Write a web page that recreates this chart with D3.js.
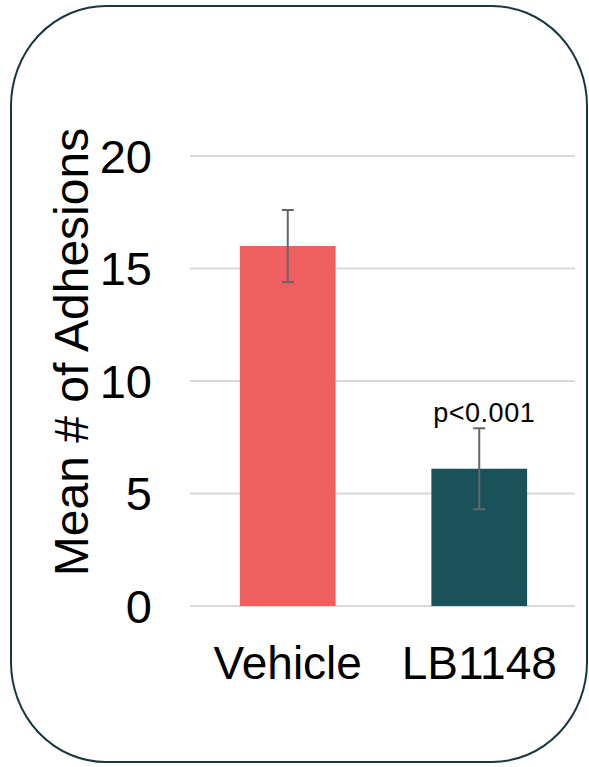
<!DOCTYPE html>
<html>
<head>
<meta charset="utf-8">
<script src="https://cdn.jsdelivr.net/npm/d3@7"></script>
<style>
  body { margin: 0; background: #fff; }
  text { font-family: "Liberation Sans", Arial, sans-serif; fill: #000; }
</style>
</head>
<body>
<div class="chart"></div>
<script>
// data
const groups = ['Vehicle', 'LB1148'];
const means = [16.0, 6.1];
const errLow = [14.4, 4.3];
const errHigh = [17.6, 7.9];
const barColors = ['#f05f5f', '#1a525c'];
const yTicks = [0, 5, 10, 15, 20];
const notes = ['', 'p<0.001'];

const width = 589, height = 767;
const svg = d3.select('.chart').append('svg')
  .attr('width', width)
  .attr('height', height);

// rounded frame
svg.append('rect')
  .attr('x', 11).attr('y', 6)
  .attr('width', 576).attr('height', 756)
  .attr('rx', 95).attr('ry', 100)
  .style('fill', 'none')
  .style('stroke', '#18373f')
  .style('stroke-width', 2);

const plotLeft = 190, plotRight = 575, plotTop = 156, plotBottom = 606;

const y = d3.scaleLinear().domain([0, 20]).range([plotBottom, plotTop]);
const x = d3.scaleBand().domain(groups).range([plotLeft + 2, plotRight]).paddingInner(0.5).paddingOuter(0.25);

// grid
svg.append('g').selectAll('line')
  .data(yTicks)
  .join('line')
  .attr('x1', plotLeft).attr('x2', plotRight)
  .attr('y1', d => y(d)).attr('y2', d => y(d))
  .style('stroke', '#d9d9d9')
  .style('stroke-width', 2);

// y tick labels
svg.append('g').selectAll('text')
  .data(yTicks)
  .join('text')
  .attr('x', 152)
  .attr('y', d => y(d))
  .attr('dy', '0.36em')
  .attr('text-anchor', 'end')
  .style('font-size', '47px')
  .text(d => d);

// y axis title
svg.append('text')
  .attr('transform', 'translate(88,352) rotate(-90)')
  .attr('text-anchor', 'middle')
  .style('font-size', '48px')
  .text('Mean # of Adhesions');

// bars
svg.append('g').selectAll('rect')
  .data(groups)
  .join('rect')
  .attr('x', d => x(d))
  .attr('width', x.bandwidth())
  .attr('y', (d, i) => y(means[i]))
  .attr('height', (d, i) => y(0) - y(means[i]))
  .style('fill', (d, i) => barColors[i]);

// error bars
const eb = svg.append('g').style('stroke', '#666').style('stroke-width', 2);
groups.forEach((g, i) => {
  const cx = x(g) + x.bandwidth() / 2;
  eb.append('line').attr('x1', cx).attr('x2', cx).attr('y1', y(errHigh[i])).attr('y2', y(errLow[i]));
  eb.append('line').attr('x1', cx - 6).attr('x2', cx + 6).attr('y1', y(errHigh[i])).attr('y2', y(errHigh[i]));
  eb.append('line').attr('x1', cx - 6).attr('x2', cx + 6).attr('y1', y(errLow[i])).attr('y2', y(errLow[i]));
});

// significance note
svg.append('g').selectAll('text')
  .data(groups)
  .join('text')
  .attr('x', d => x(d) + x.bandwidth() / 2 + 5)
  .attr('y', (d, i) => y(errHigh[i]) - 6)
  .attr('text-anchor', 'middle')
  .style('font-size', '27px')
  .style('letter-spacing', '0.5px')
  .text((d, i) => notes[i]);

// category labels
svg.append('g').selectAll('text')
  .data(groups)
  .join('text')
  .attr('x', d => x(d) + x.bandwidth() / 2)
  .attr('y', 679)
  .attr('text-anchor', 'middle')
  .style('font-size', '46px')
  .text(d => d);
</script>
</body>
</html>
